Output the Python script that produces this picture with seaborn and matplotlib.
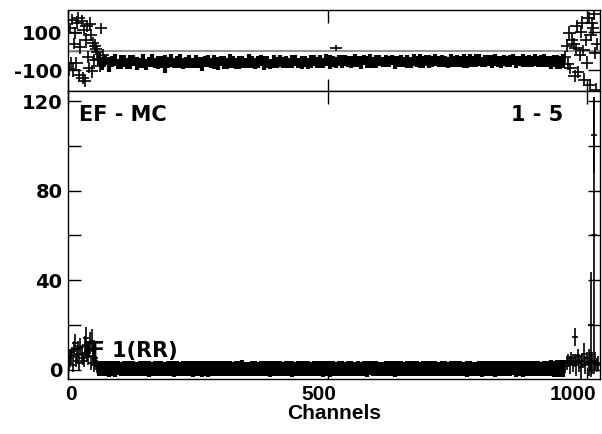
import numpy as np
import pandas as pd
import matplotlib
matplotlib.use("Agg")
import matplotlib.pyplot as plt
from matplotlib.transforms import ScaledTranslation
from matplotlib.ticker import FixedLocator, FixedFormatter
import seaborn as sns

# ---------------- data ----------------
# middle channels (every 6th channel)
mid_channels = list(range(60, 960, 6))

phase_mid = [
    -40, -62, -48, -70, -55, -45, -66, -58, -52, -63,
    -57, -49, -64, -60, -53, -68, -56, -50, -61, -59,
    -54, -66, -58, -47, -62, -57, -51, -65, -60, -55,
    -63, -52, -58, -67, -55, -49, -61, -57, -64, -53,
    -59, -62, -50, -56, -65, -58, -54, -60, -52, -57,
    -63, -55, -48, -61, -57, -66, -53, -59, -51, -58,
    -56, -62, -54, -49, -60, -57, -53, -64, -55, -50,
    -58, -52, -61, -47, -56, -53, -59, -50, -55, -48,
    -54, -57, -49, -52, -60, -46, -55, -51, -58, -53,
    -48, -56, -50, -54, -45, -59, -52, -49, -55, -51,
    -57, -47, -53, -50, -56, -48, -54, -52, -46, -55,
    -50, -53, -58, -47, -52, -49, -55, -51, -57, -48,
    -53, -50, -46, -55, -51, -49, -54, -47, -52, -56,
    -49, -53, -50, -45, -55, -51, -48, -54, -50, -52,
    -47, -55, -51, -49, -53, -58, -50, -56, -60, -52,
]
phase_mid_err = [
    30, 34, 26, 38, 29, 33, 27, 36, 31, 28,
    35, 29, 32, 27, 37, 30, 28, 34, 26, 33,
    31, 48, 29, 35, 27, 32, 36, 28, 30, 34,
    27, 33, 30, 36, 29, 31, 28, 35, 32, 26,
    34, 29, 37, 30, 28, 33, 31, 27, 36, 30,
    29, 32, 28, 35, 31, 27, 34, 30, 33, 29,
    32, 28, 36, 30, 27, 34, 29, 31, 35, 28,
    30, 33, 27, 32, 38, 29, 31, 28, 34, 30,
    28, 31, 35, 29, 33, 27, 30, 36, 29, 32,
    31, 27, 33, 30, 28, 35, 29, 32, 27, 34,
    29, 32, 28, 36, 30, 27, 33, 29, 31, 28,
    33, 30, 27, 34, 29, 31, 28, 35, 30, 32,
    28, 34, 30, 27, 32, 29, 36, 31, 28, 33,
    30, 28, 33, 29, 31, 27, 34, 30, 32, 29,
    32, 29, 31, 35, 28, 33, 30, 36, 34, 38,
]
amp_mid = [
    0.6, 0.4, 0.5, 0.3, 0.5, 0.4, 0.6, 0.3, 0.5, 0.4,
    0.4, 0.5, 0.3, 0.5, 0.4, 0.6, 0.4, 0.3, 0.5, 0.4,
    0.5, 0.3, 0.4, 0.6, 0.4, 0.5, 0.3, 0.4, 0.5, 0.4,
    0.3, 0.5, 0.4, 0.4, 0.6, 0.3, 0.5, 0.4, 0.4, 0.5,
    0.4, 0.4, 0.5, 0.3, 0.4, 0.5, 0.6, 0.4, 0.3, 0.5,
    0.5, 0.3, 0.4, 0.5, 0.4, 0.3, 0.5, 0.6, 0.4, 0.4,
    0.4, 0.5, 0.4, 0.3, 0.5, 0.4, 0.4, 0.5, 0.3, 0.6,
    0.5, 0.4, 0.3, 0.5, 0.4, 0.6, 0.4, 0.5, 0.4, 0.3,
    0.4, 0.5, 0.4, 0.4, 0.3, 0.5, 0.4, 0.6, 0.5, 0.4,
    0.3, 0.4, 0.5, 0.4, 0.5, 0.3, 0.4, 0.5, 0.4, 0.6,
    0.5, 0.4, 0.4, 0.3, 0.5, 0.4, 0.6, 0.4, 0.5, 0.3,
    0.4, 0.5, 0.3, 0.4, 0.6, 0.5, 0.4, 0.4, 0.3, 0.5,
    0.4, 0.3, 0.5, 0.4, 0.4, 0.6, 0.5, 0.3, 0.4, 0.5,
    0.5, 0.4, 0.4, 0.6, 0.3, 0.5, 0.4, 0.5, 0.4, 0.4,
    0.4, 0.5, 0.3, 0.4, 0.5, 0.6, 0.4, 0.5, 0.7, 0.5,
]
amp_mid_err = [
    3.4, 3.3, 3.2, 3.4, 3.3, 3.5, 3.2, 3.3, 3.4, 3.3,
    3.3, 3.4, 3.3, 3.2, 3.4, 3.3, 3.5, 3.3, 3.2, 3.4,
    3.2, 3.3, 3.4, 3.3, 3.5, 3.2, 3.3, 3.4, 3.3, 3.3,
    3.4, 3.2, 3.3, 3.5, 3.3, 3.4, 3.2, 3.3, 3.4, 3.3,
    3.3, 3.4, 3.2, 3.3, 3.4, 3.3, 3.5, 3.2, 3.3, 3.4,
    3.4, 3.3, 3.3, 3.2, 3.4, 3.5, 3.3, 3.3, 3.4, 3.2,
    3.3, 3.4, 3.5, 3.3, 3.2, 3.3, 3.4, 3.3, 3.3, 3.4,
    3.2, 3.3, 3.4, 3.3, 3.5, 3.3, 3.2, 3.4, 3.3, 3.3,
    3.4, 3.3, 3.2, 3.4, 3.3, 3.3, 3.5, 3.2, 3.3, 3.4,
    3.3, 3.2, 3.4, 3.3, 3.3, 3.4, 3.3, 3.5, 3.2, 3.3,
    3.4, 3.3, 3.3, 3.2, 3.4, 3.3, 3.4, 3.3, 3.5, 3.3,
    3.3, 3.4, 3.2, 3.3, 3.3, 3.4, 3.3, 3.2, 3.4, 3.3,
    3.2, 3.3, 3.4, 3.5, 3.3, 3.3, 3.2, 3.4, 3.3, 3.4,
    3.4, 3.3, 3.3, 3.2, 3.4, 3.3, 3.5, 3.3, 3.3, 3.4,
    3.3, 3.4, 3.3, 3.4, 3.5, 3.6, 3.5, 3.7, 3.8, 3.6,
]

# noisy band edges and outliers, phase panel
phase_edge_ch = [2, 4, 6, 8, 10, 12, 14, 16, 18, 20, 22, 24, 26, 28, 30, 32, 34, 36,
                 38, 40, 42, 44, 46, 48, 50, 52, 54, 56, 58, 61, 64, 67, 70, 516,
                 958, 961, 963, 966, 968, 971, 974, 976, 978, 980, 983, 986, 988,
                 990, 993, 995, 998, 1000, 1003, 1005, 1007, 1009, 1011, 1013,
                 1015, 1017, 1019]
phase_edge = [-95, 120, -60, 165, -100, 40, 95, -62, 150, 175, -125, 20, 160, -140,
              110, -155, 60, 130, -30, -85, 145, 85, -105, 45, -45, 30, 10, -5, -40,
              -75, 120, -20, -50, 15,
              -30, 30, -65, 96, -90, 60, 38, -130, 15, 130, -110, -20, 100,
              150, 5, -150, 60, -60, 175, -175, 85, 150, 120, 195, -10, -205, 40]
phase_edge_err = [35, 30, 32, 30, 35, 30, 33, 30, 34, 32, 30, 35, 30, 33, 32, 30, 34,
                  30, 32, 30, 33, 31, 34, 30, 32, 33, 30, 31, 34, 32, 30, 33, 31, 16,
                  30, 33, 32, 35, 30, 33, 31, 32, 30, 34, 31, 30, 33, 32, 30, 34,
                  31, 33, 30, 32, 31, 30, 34, 32, 31, 40, 31]

# noisy band edges and outliers, amplitude panel
amp_edge_ch = [2, 4, 6, 8, 10, 12, 14, 16, 18, 20, 22, 24, 26, 28, 30, 32, 34, 36, 38,
               40, 42, 44, 46, 48, 50, 52, 54, 56,
               958, 961, 964, 967, 970, 973, 976, 977, 979, 982, 985, 988, 991, 994,
               997, 1000, 1003, 1006, 1008, 1010, 1013, 1013, 1016, 1019, 1022]
amp_edge = [3, 5, 6, 8, 2, 9, 12, 4, 7, 9, 3, 10, 7, 5, 4, 11, 14, 8, 6,
            9, 12, 3, 13, 6, 2, 5, 3, 1.5,
            1.5, 3, 4, 2, 5, 3, 4, 14.5, 2, 6, 3, 1, 4, 7,
            2, 5, 3, 4, 20, 3, 60, 105, 4, 2, 3]
amp_edge_err = [3, 4, 3, 2, 3, 4, 4, 3, 4, 4, 3, 4, 4, 3, 3, 4, 5, 4, 4,
                4, 5, 3, 5, 4, 3, 3, 3, 3,
                3, 3, 3, 4, 3, 4, 3, 4, 5, 3, 4, 5, 3, 5,
                4, 3, 6, 4, 23.5, 5, 62, 17, 4, 3, 3]

x_ticks = [0, 500, 1000]
phase_ticks = [-100, 0, 100]
phase_tick_labels = ["-100", "", "100"]
amp_ticks = [0, 20, 40, 60, 80, 100, 120]
amp_tick_labels = ["0", "", "40", "", "80", "", "120"]

# ---------------- figure ----------------
sns.set_theme(style="white")
plt.rcParams['font.family'] = ['Liberation Sans', 'DejaVu Sans']
plt.rcParams['font.weight'] = 'bold'
plt.rcParams['axes.unicode_minus'] = False
for key in ['text.color', 'axes.labelcolor', 'xtick.color', 'ytick.color',
            'axes.edgecolor']:
    plt.rcParams[key] = 'black'

fig = plt.figure(figsize=(6.02, 4.34), dpi=100)
fig.patch.set_facecolor("white")
ax_top = fig.add_axes([0.1130, 0.7903, 0.8837, 0.1867])
ax_bot = fig.add_axes([0.1130, 0.1267, 0.8837, 0.6636], sharex=ax_top)

mid_df = pd.DataFrame({"ch": mid_channels, "phase": phase_mid, "perr": phase_mid_err,
                       "amp": amp_mid, "aerr": amp_mid_err})
pe_df = pd.DataFrame({"ch": phase_edge_ch, "phase": phase_edge, "perr": phase_edge_err})
ae_df = pd.DataFrame({"ch": amp_edge_ch, "amp": amp_edge, "aerr": amp_edge_err})

# phase panel
ax_top.axhline(0, color="#8a8a8a", lw=1.3, zorder=1)
ax_top.errorbar(mid_df["ch"], mid_df["phase"], yerr=mid_df["perr"], xerr=3,
                fmt="none", ecolor="black", elinewidth=3.0, capsize=0, zorder=3)
ax_top.errorbar(pe_df["ch"], pe_df["phase"], yerr=pe_df["perr"], xerr=12,
                fmt="none", ecolor="black", elinewidth=1.2, capsize=0, zorder=3)
sns.scatterplot(data=pd.concat([mid_df[["ch", "phase"]], pe_df[["ch", "phase"]]]),
                x="ch", y="phase", ax=ax_top, marker="s", s=1, color="black",
                edgecolor=None, linewidth=0, legend=False, zorder=4)

# amplitude panel
ax_bot.errorbar(mid_df["ch"], mid_df["amp"], yerr=mid_df["aerr"], xerr=3,
                fmt="none", ecolor="black", elinewidth=3.0, capsize=0, zorder=3)
ax_bot.errorbar(ae_df["ch"], ae_df["amp"], yerr=ae_df["aerr"], xerr=6,
                fmt="none", ecolor="black", elinewidth=1.2, capsize=0, zorder=3)
sns.scatterplot(data=pd.concat([mid_df[["ch", "amp"]], ae_df[["ch", "amp"]]]),
                x="ch", y="amp", ax=ax_bot, marker="s", s=1, color="black",
                edgecolor=None, linewidth=0, legend=False, zorder=4)

# limits
ax_top.set_xlim(0, 1025)
ax_top.set_ylim(-208, 216)
ax_bot.set_ylim(-4.2, 124.5)

for ax in (ax_top, ax_bot):
    ax.set_facecolor("white")
    for sp in ax.spines.values():
        sp.set_color("black")
        sp.set_linewidth(1.0)
    ax.tick_params(direction="in", length=9, width=1.0, color="black",
                   top=True, right=True, bottom=True, left=True,
                   labelsize=15, pad=4, labelcolor="black")
    ax.set_xticks(x_ticks)
    ax.set_xlabel("")
    ax.set_ylabel("")

ax_top.yaxis.set_major_locator(FixedLocator(phase_ticks))
ax_top.yaxis.set_major_formatter(FixedFormatter(phase_tick_labels))
ax_top.tick_params(labelbottom=False)
ax_bot.yaxis.set_major_locator(FixedLocator(amp_ticks))
ax_bot.yaxis.set_major_formatter(FixedFormatter(amp_tick_labels))
ax_bot.set_xticklabels([str(t) for t in x_ticks])

for lab in ax_bot.get_xticklabels():
    lab.set_fontweight("bold")
for lab in ax_bot.get_yticklabels() + ax_top.get_yticklabels():
    lab.set_fontfamily(['DejaVu Sans'])
    lab.set_fontweight("bold")
    lab.set_fontsize(14)
off = ScaledTranslation(9 / 100, 0, fig.dpi_scale_trans)
for lab in ax_bot.get_xticklabels():
    lab.set_horizontalalignment("right")
    lab.set_transform(lab.get_transform() + off)

ax_bot.set_xlabel("Channels", fontsize=15, fontweight="bold", labelpad=0,
                  color="black")

txt_font = ['DejaVu Sans']
ax_bot.text(0.021, 0.917, "EF - MC", transform=ax_bot.transAxes, fontsize=15,
            family=txt_font, fontweight="bold", ha="left", va="center", zorder=2)
ax_bot.text(0.930, 0.917, "1 - 5", transform=ax_bot.transAxes, fontsize=15,
            family=txt_font, fontweight="bold", ha="right", va="center", zorder=2)
ax_bot.text(0.028, 0.097, "IF 1(RR)", transform=ax_bot.transAxes, fontsize=15,
            family=txt_font, fontweight="bold", ha="left", va="center", zorder=2)

fig.savefig("out.png", dpi=100, facecolor="white")
